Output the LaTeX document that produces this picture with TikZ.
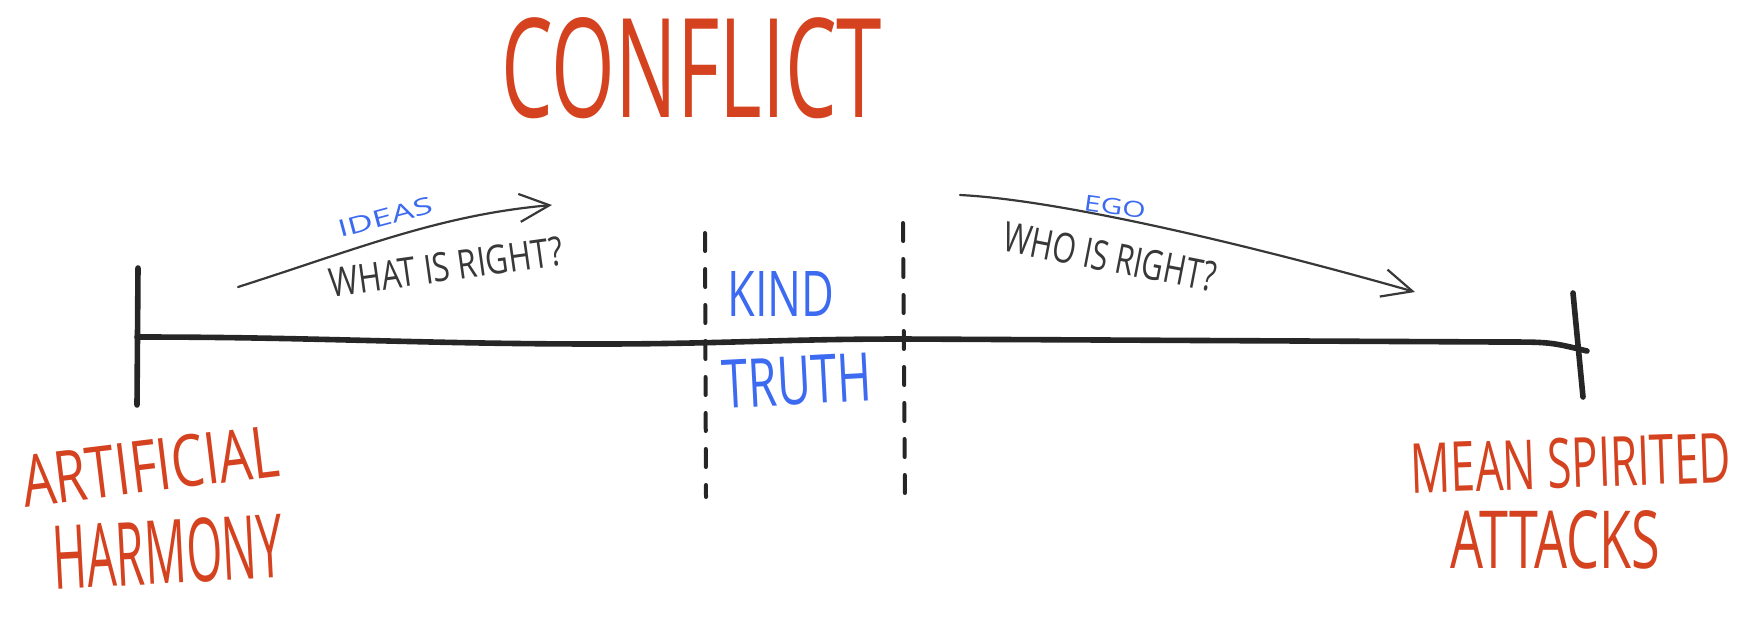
\documentclass[tikz,border=0pt]{standalone}
\usepackage{amsmath,graphicx}
\usepackage{fontspec}
\setmainfont{Open Sans}
\usepackage{tikz}
\usetikzlibrary{arrows.meta}
\definecolor{marker}{HTML}{D5421F}
\definecolor{pen}{HTML}{3C6AF0}
\definecolor{pencil}{HTML}{383838}
\newlength{\unitpx}\setlength{\unitpx}{0.5pt}
\newcommand{\hand}[3]{\resizebox{#1\unitpx}{#2\unitpx}{#3}}

\begin{document}
\begin{tikzpicture}[x=0.5pt,y=-0.5pt,every node/.style={inner sep=0pt},
    axis/.style={line width=2.8pt,color=black!85,line cap=round,line join=round},
    fence/.style={line width=2pt,color=black!85,dash pattern=on 9pt off 9pt,line cap=round},
    swing/.style={line width=1.1pt,color=pencil,line cap=round,-{Straight Barb[length=15pt,width=14pt,line width=1.1pt]}}]
    \useasboundingbox (0,0) rectangle (1752,622);

    \node[text=marker] (title) at (692,68) {\hand{380}{100}{CONFLICT}};

    % the scale and its two ends
    \coordinate (axL) at (137,337); \coordinate (axM) at (600,344); \coordinate (axC) at (903,339); \coordinate (axK) at (1500,342); \coordinate (axR) at (1587,351);
    \coordinate (ltop) at (138,268); \coordinate (lbot) at (137,405); \coordinate (rtop) at (1573,293); \coordinate (rbot) at (1583,397);
    \draw[axis] (axL) to[out=0,in=180] (axM) to[out=0,in=180] (axC) -- (axK) .. controls (1550,342) .. (axR);
    \draw[axis] (ltop) -- (lbot); \draw[axis] (rtop) -- (rbot);

    % the middle band
    \coordinate (fa) at (705,233); \coordinate (fb) at (706,497); \coordinate (fc) at (903,223); \coordinate (fd) at (905,503);
    \draw[fence] (fa) -- (fb); \draw[fence] (fc) -- (fd);
    \node[text=pen] (kind) at (781,294) {\hand{107}{45}{KIND}};
    \node[text=pen,rotate=3] (truth) at (797,381) {\hand{149}{48}{TRUTH}};

    % the two arrows above the scale
    \coordinate (ideasA) at (238,287); \coordinate (ideasB) at (552,205);
    \coordinate (egoA) at (960,195); \coordinate (egoB) at (1415,292);
    \draw[swing] (ideasA) .. controls (360,248) and (440,215) .. (ideasB);
    \draw[swing] (egoA) .. controls (1060,200) and (1250,245) .. (egoB);
    \node[text=pen,rotate=15] (ideas) at (385,217) {\hand{97}{17}{IDEAS}};
    \node[text=pencil,rotate=8] (whatright) at (446,267) {\hand{235}{29}{WHAT IS RIGHT?}};
    \node[text=pen,rotate=-8] (ego) at (1115,207) {\hand{62}{16}{EGO}};
    \node[text=pencil,rotate=-11] (whoright) at (1110,257) {\hand{215}{30}{WHO IS RIGHT?}};

    % the two extremes
    \node[text=marker,rotate=7] (artificial) at (150,466) {\hand{258}{52}{ARTIFICIAL}};
    \node[text=marker,rotate=3] (harmony) at (168,552) {\hand{230}{64}{HARMONY}};
    \node[text=marker,rotate=2] (mean) at (1571,463) {\hand{320}{50}{MEAN SPIRITED}};
    \node[text=marker] (attacks) at (1555,540) {\hand{210}{58}{ATTACKS}};
\end{tikzpicture}
\end{document}
